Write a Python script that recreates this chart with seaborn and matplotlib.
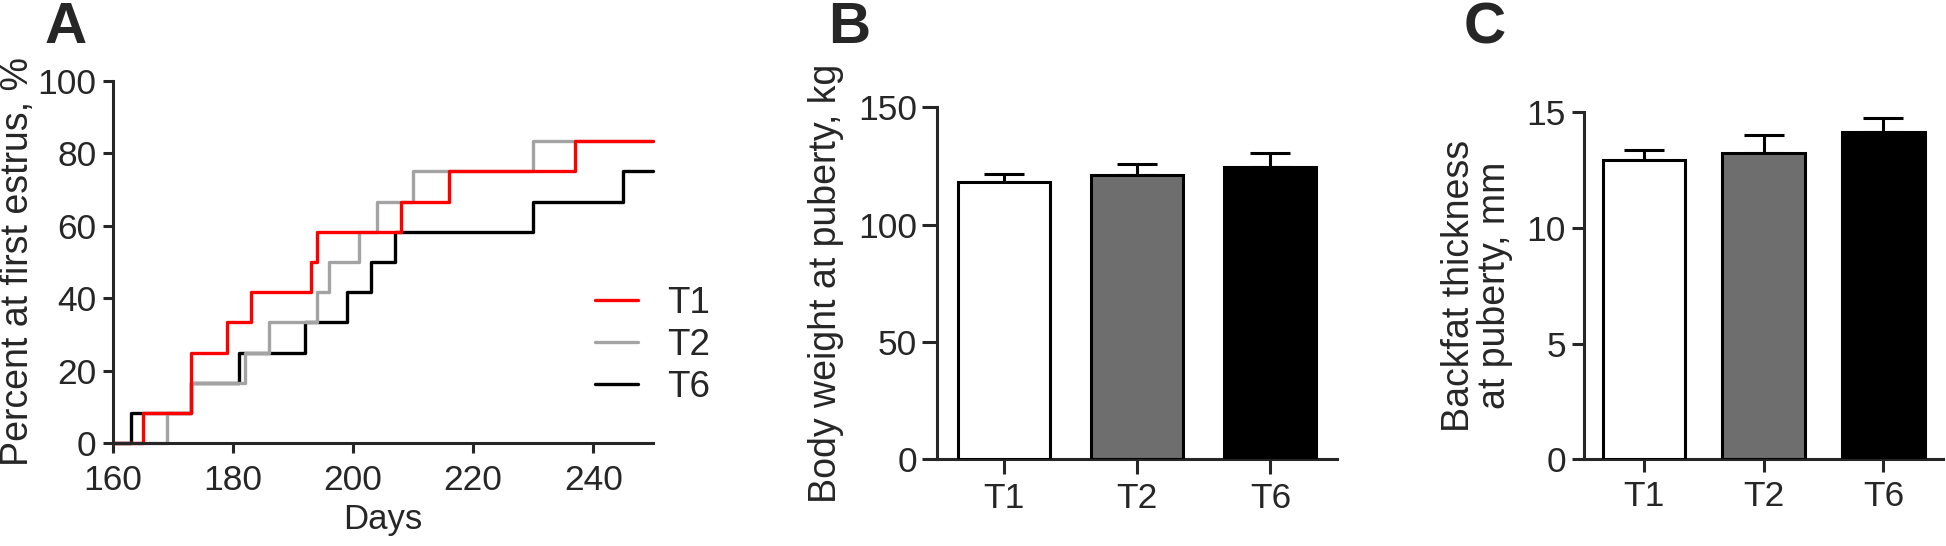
import matplotlib
matplotlib.use("Agg")
import matplotlib.pyplot as plt
import seaborn as sns
import numpy as np
import pandas as pd

# ---------------- data ----------------
# Panel A: cumulative percent of gilts at first estrus (step curves)
t1_days = [160, 165, 173, 179, 183, 193, 194, 208, 216, 237, 250]
t1_pct = [0, 8.33, 25.0, 33.33, 41.67, 50.0, 58.33, 66.67, 75.0, 83.33, 83.33]
t2_days = [160, 169, 173, 182, 186, 194, 196, 201, 204, 210, 230, 250]
t2_pct = [0, 8.33, 16.67, 25.0, 33.33, 41.67, 50.0, 58.33, 66.67, 75.0, 83.33, 83.33]
t6_days = [160, 163, 173, 181, 192, 199, 203, 207, 230, 245, 250]
t6_pct = [0, 8.33, 16.67, 25.0, 33.33, 41.67, 50.0, 58.33, 66.67, 75.0, 75.0]

# Panels B and C
groups = ["T1", "T2", "T6"]
body_weight = [118.2, 121.0, 124.4]
body_weight_sem = [3.5, 4.8, 6.2]
backfat = [12.95, 13.25, 14.15]
backfat_sem = [0.42, 0.78, 0.60]

line_colors = {"T1": "#FF0000", "T2": "#A3A3A3", "T6": "#000000"}
bar_colors = ["#FFFFFF", "#6E6E6E", "#000000"]

# ---------------- style ----------------
sns.set_style("ticks")
plt.rcParams["font.family"] = ["Liberation Sans", "DejaVu Sans"]
plt.rcParams["axes.linewidth"] = 2.2

TICK_FS = 25.5
LABEL_FS = 27
LETTER_FS = 42

W, H = 1946, 546
fig = plt.figure(figsize=(W / 100, H / 100), dpi=100)


def ax_px(left, right, top, bottom):
    return fig.add_axes([left / W, 1 - bottom / H, (right - left) / W, (bottom - top) / H])


# ---------------- Panel A ----------------
axA = ax_px(112.7, 653.3, 80.7, 443.3)
series = [("T6", t6_days, t6_pct), ("T2", t2_days, t2_pct), ("T1", t1_days, t1_pct)]
for name, d, p in series:
    df = pd.DataFrame({"Days": d, "Pct": p})
    sns.lineplot(data=df, x="Days", y="Pct", drawstyle="steps-post", estimator=None,
                 sort=False, color=line_colors[name], linewidth=2.4, ax=axA,
                 clip_on=False, label=name)
axA.set_xlim(160, 250)
axA.set_ylim(0, 100)
axA.set_xticks([160, 180, 200, 220, 240])
axA.set_yticks([0, 20, 40, 60, 80, 100])
axA.tick_params(axis="both", length=7, width=2.2, labelsize=TICK_FS)
axA.tick_params(axis="x", pad=8)
axA.tick_params(axis="y", pad=4.5)
axA.set_xlabel("Days", fontsize=LABEL_FS - 2, labelpad=4)
axA.set_ylabel("Percent at first estrus, %", fontsize=LABEL_FS)
axA.yaxis.set_label_coords((36 - 112.7) / 540.6, 0.5)
sns.despine(ax=axA)
h, l = axA.get_legend_handles_labels()
order = [l.index(n) for n in ["T1", "T2", "T6"]]
axA.legend([h[i] for i in order], [l[i] for i in order], frameon=False,
           loc="center left", bbox_to_anchor=(0.893, 0.27), borderaxespad=0,
           borderpad=0, handlelength=1.15, handletextpad=0.8, labelspacing=0.18,
           fontsize=TICK_FS + 1)


# ---------------- bar panels ----------------
def bar_panel(ax, vals, errs, ylim, yticks, ylabel, ticklen):
    sns.barplot(x=groups, y=vals, hue=groups, palette=bar_colors, edgecolor="black",
                linewidth=2.2, width=0.69, legend=False, ax=ax, zorder=3)
    ax.errorbar(np.arange(len(groups)), vals, yerr=[np.zeros(len(vals)), errs],
                fmt="none", ecolor="black", elinewidth=2.2, capsize=14.5,
                capthick=2.2, zorder=2)
    ax.set_xlim(-0.5, 2.5)
    ax.set_ylim(*ylim)
    ax.set_yticks(yticks)
    ax.tick_params(axis="both", length=ticklen, width=2.2, labelsize=TICK_FS)
    ax.tick_params(axis="x", pad=6)
    ax.tick_params(axis="y", pad=4)
    ax.set_ylabel(ylabel, fontsize=LABEL_FS, labelpad=10)
    ax.set_xlabel("")
    sns.despine(ax=ax)


axB = ax_px(937.3, 1337, 107.3, 459.3)
bar_panel(axB, body_weight, body_weight_sem, (0, 150), [0, 50, 100, 150],
          "Body weight at puberty, kg", 10.5)

axC = ax_px(1584, 1943.3, 112.3, 459.3)
bar_panel(axC, backfat, backfat_sem, (0, 15), [0, 5, 10, 15],
          "Backfat thickness\nat puberty, mm", 9)
axC.yaxis.label.set_linespacing(1.0)

# ---------------- panel letters ----------------
for txt, x in [("A", 45), ("B", 828), ("C", 1464)]:
    fig.text(x / W, 1 - 1 / H, txt, fontsize=LETTER_FS, fontweight="bold",
             ha="left", va="top")

fig.savefig("out.png", dpi=100)
